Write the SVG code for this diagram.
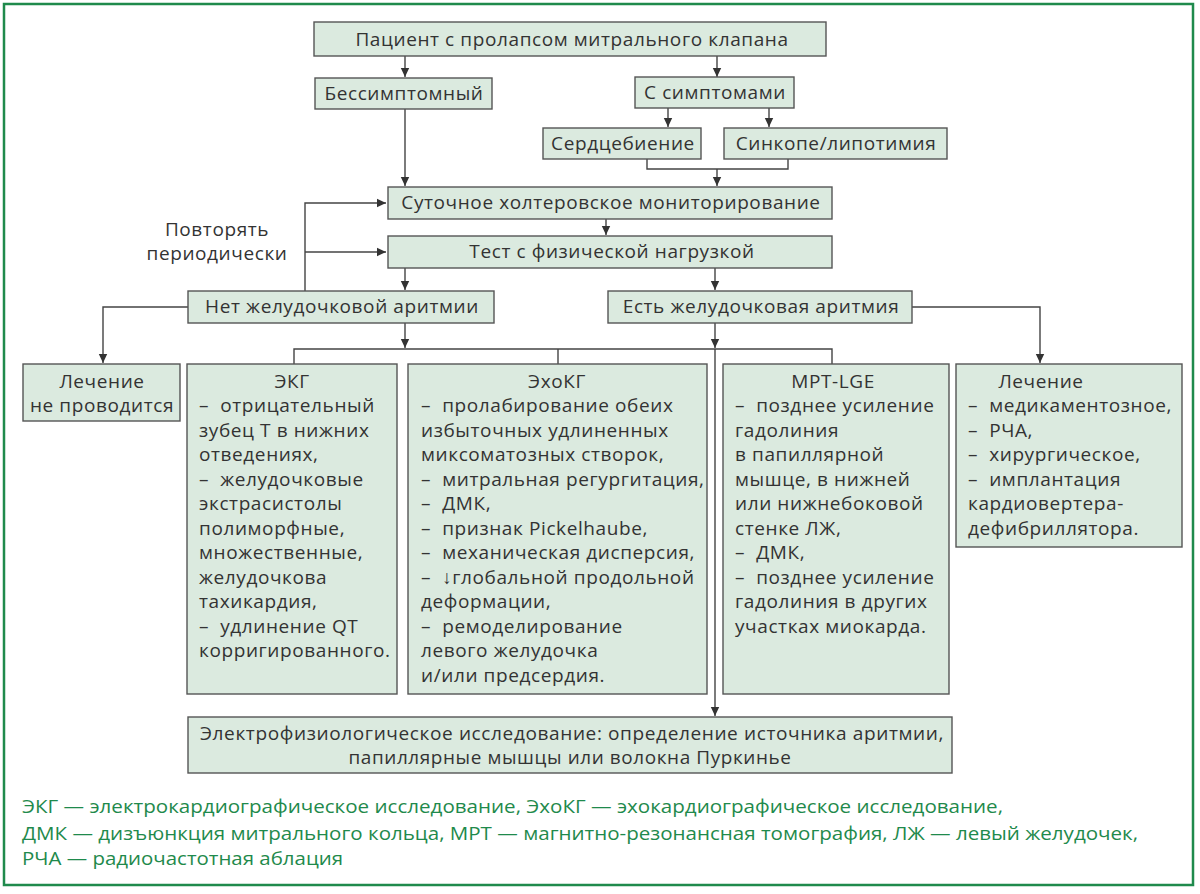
<svg xmlns="http://www.w3.org/2000/svg" width="1200" height="894" viewBox="0 0 1200 894">
<style>
.box{fill:#dbeadf;stroke:#555;stroke-width:1.4}
.t{font-family:"Open Sans","Noto Sans",sans-serif;font-size:19px;letter-spacing:0.6px;fill:#333}
.c{text-anchor:middle}
.ln{fill:none;stroke:#444;stroke-width:1.4}
.fn{font-family:"Open Sans","Noto Sans",sans-serif;font-size:18px;fill:#1f8a4c}
</style>
<defs>
<marker id="ah" markerWidth="10" markerHeight="10" refX="9" refY="5" orient="auto" markerUnits="userSpaceOnUse">
<path d="M0,0.8 L9,5 L0,9.2 Z" fill="#333"/>
</marker>
</defs>
<rect x="4" y="4" width="1189" height="881" fill="#fff" stroke="#1f8a4c" stroke-width="2.5"/>

<g id="connectors">
<path class="ln" d="M405,56 V77" marker-end="url(#ah)"/>
<path class="ln" d="M717,56 V77" marker-end="url(#ah)"/>
<path class="ln" d="M668,108 V127" marker-end="url(#ah)"/>
<path class="ln" d="M769,108 V127" marker-end="url(#ah)"/>
<path class="ln" d="M647,159 V169 H788 V159"/>
<path class="ln" d="M717,169 V186" marker-end="url(#ah)"/>
<path class="ln" d="M405,108 V186" marker-end="url(#ah)"/>
<path class="ln" d="M305,291 V203 H386" marker-end="url(#ah)"/>
<path class="ln" d="M305,252 H386" marker-end="url(#ah)"/>
<path class="ln" d="M606,219 V235" marker-end="url(#ah)"/>
<path class="ln" d="M405,268 V290" marker-end="url(#ah)"/>
<path class="ln" d="M715,268 V290" marker-end="url(#ah)"/>
<path class="ln" d="M188,307 H103 V363" marker-end="url(#ah)"/>
<path class="ln" d="M912,307 H1040 V363" marker-end="url(#ah)"/>
<path class="ln" d="M405,323 V348" marker-end="url(#ah)"/>
<path class="ln" d="M715,323 V348" marker-end="url(#ah)"/>
<path class="ln" d="M294,364 V349 H832 V364"/>
<path class="ln" d="M558,349 V364"/>
<path class="ln" d="M715,349 V716" marker-end="url(#ah)"/>
</g>

<g id="n-patient">
<rect class="box" x="314" y="22" width="512" height="34"/>
<text class="t c" x="572" y="46">Пациент с пролапсом митрального клапана</text>
</g>
<g id="n-asym">
<rect class="box" x="315" y="78" width="177" height="31"/>
<text class="t c" x="404" y="100">Бессимптомный</text>
</g>
<g id="n-sym">
<rect class="box" x="635" y="77" width="159" height="31"/>
<text class="t c" x="715" y="99">С симптомами</text>
</g>
<g id="n-palp">
<rect class="box" x="543" y="128" width="158" height="31"/>
<text class="t c" x="623" y="150">Сердцебиение</text>
</g>
<g id="n-sync">
<rect class="box" x="724" y="128" width="223" height="31"/>
<text class="t c" x="836" y="150">Синкопе/липотимия</text>
</g>
<g id="n-holter">
<rect class="box" x="388" y="187" width="444" height="32"/>
<text class="t c" x="611" y="209">Суточное холтеровское мониторирование</text>
</g>
<g id="n-test">
<rect class="box" x="388" y="236" width="444" height="32"/>
<text class="t c" x="612" y="258">Тест с физической нагрузкой</text>
</g>
<g id="n-repeat">
<text class="t c" x="217" y="236">Повторять</text>
<text class="t c" x="217" y="260">периодически</text>
</g>
<g id="n-no">
<rect class="box" x="188" y="291" width="306" height="32"/>
<text class="t c" x="342" y="313">Нет желудочковой аритмии</text>
</g>
<g id="n-yes">
<rect class="box" x="608" y="291" width="304" height="32"/>
<text class="t c" x="761" y="313">Есть желудочковая аритмия</text>
</g>
<g id="n-notreat">
<rect class="box" x="23" y="364" width="157" height="57"/>
<text class="t c" x="102" y="387.5">Лечение</text>
<text class="t c" x="102" y="412">не проводится</text>
</g>
<g id="n-ecg">
<rect class="box" x="187" y="364" width="210" height="330"/>
<text class="t c" x="292" y="387.5">ЭКГ</text>
<text class="t" x="199" y="412">–&#160; отрицательный</text>
<text class="t" x="199" y="436.5">зубец Т в нижних</text>
<text class="t" x="199" y="461">отведениях,</text>
<text class="t" x="199" y="485.5">–&#160; желудочковые</text>
<text class="t" x="199" y="510">экстрасистолы</text>
<text class="t" x="199" y="534.5">полиморфные,</text>
<text class="t" x="199" y="559">множественные,</text>
<text class="t" x="199" y="583.5">желудочкова</text>
<text class="t" x="199" y="608">тахикардия,</text>
<text class="t" x="199" y="632.5">–&#160; удлинение QT</text>
<text class="t" x="199" y="657">корригированного.</text>
</g>
<g id="n-echo">
<rect class="box" x="408" y="364" width="299" height="330"/>
<text class="t c" x="557" y="387.5">ЭхоКГ</text>
<text class="t" x="421" y="412">–&#160; пролабирование обеих</text>
<text class="t" x="421" y="436.5">избыточных удлиненных</text>
<text class="t" x="421" y="461">миксоматозных створок,</text>
<text class="t" x="421" y="485.5">–&#160; митральная регургитация,</text>
<text class="t" x="421" y="510">–&#160; ДМК,</text>
<text class="t" x="421" y="534.5">–&#160; признак Pickelhaube,</text>
<text class="t" x="421" y="559">–&#160; механическая дисперсия,</text>
<text class="t" x="421" y="583.5">–&#160; ↓глобальной продольной</text>
<text class="t" x="421" y="608">деформации,</text>
<text class="t" x="421" y="632.5">–&#160; ремоделирование</text>
<text class="t" x="421" y="657">левого желудочка</text>
<text class="t" x="421" y="681.5">и/или предсердия.</text>
</g>
<g id="n-mri">
<rect class="box" x="723" y="364" width="226" height="330"/>
<text class="t c" x="833" y="387.5">МРТ-LGE</text>
<text class="t" x="735" y="412">–&#160; позднее усиление</text>
<text class="t" x="735" y="436.5">гадолиния</text>
<text class="t" x="735" y="461">в папиллярной</text>
<text class="t" x="735" y="485.5">мышце, в нижней</text>
<text class="t" x="735" y="510">или нижнебоковой</text>
<text class="t" x="735" y="534.5">стенке ЛЖ,</text>
<text class="t" x="735" y="559">–&#160; ДМК,</text>
<text class="t" x="735" y="583.5">–&#160; позднее усиление</text>
<text class="t" x="735" y="608">гадолиния в других</text>
<text class="t" x="735" y="632.5">участках миокарда.</text>
</g>
<g id="n-treat">
<rect class="box" x="956" y="364" width="226" height="183"/>
<text class="t c" x="1041" y="387.5">Лечение</text>
<text class="t" x="968" y="412">–&#160; медикаментозное,</text>
<text class="t" x="968" y="436.5">–&#160; РЧА,</text>
<text class="t" x="968" y="461">–&#160; хирургическое,</text>
<text class="t" x="968" y="485.5">–&#160; имплантация</text>
<text class="t" x="968" y="510">кардиовертера-</text>
<text class="t" x="968" y="534.5">дефибриллятора.</text>
</g>
<g id="n-eps">
<rect class="box" x="188" y="717" width="764" height="56"/>
<text class="t c" x="572" y="740" textLength="744" lengthAdjust="spacingAndGlyphs">Электрофизиологическое исследование: определение источника аритмии,</text>
<text class="t c" x="570" y="764" textLength="443" lengthAdjust="spacingAndGlyphs">папиллярные мышцы или волокна Пуркинье</text>
</g>
<g id="footnote">
<text class="fn" x="22" y="813" textLength="981" lengthAdjust="spacingAndGlyphs">ЭКГ — электрокардиографическое исследование, ЭхоКГ — эхокардиографическое исследование,</text>
<text class="fn" x="22" y="840" textLength="1116" lengthAdjust="spacingAndGlyphs">ДМК — дизъюнкция митрального кольца, МРТ — магнитно-резонансная томография, ЛЖ — левый желудочек,</text>
<text class="fn" x="22" y="865" textLength="321" lengthAdjust="spacingAndGlyphs">РЧА — радиочастотная аблация</text>
</g>
</svg>
